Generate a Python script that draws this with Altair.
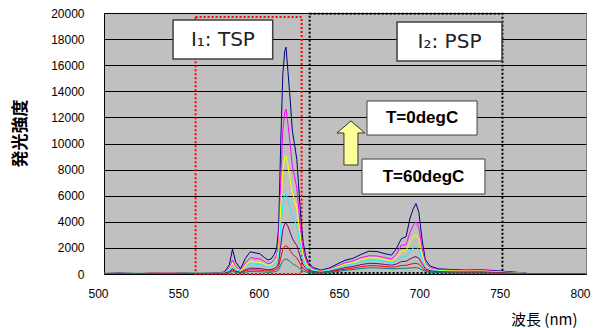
import altair as alt
import pandas as pd

# wavelength grid (nm)
wavelength = [500, 510, 520, 530, 540, 550, 560, 570, 575, 578, 580, 582, 585, 588, 591, 594, 597,
              600, 602, 604, 606, 607.5, 608.7, 610, 611.3, 612.5, 613.3, 614.5, 615.8, 617.2, 618.5,
              620, 621, 622, 623, 624, 625.5, 627, 630, 635, 640, 645, 650, 655, 660, 665, 670, 675,
              679, 682, 685, 688, 690.5, 692.5, 694.2, 696, 698, 700, 703, 708, 715, 725, 735, 745,
              755, 762, 765, 780, 800]

# emission intensity, T = 0 degC (top) ... T = 60 degC (bottom)
s_navy = [40, 60, 30, 50, 40, 60, 50, 80, 150, 700, 1900, 900, 400, 1200, 1700, 1620, 1550,
          1250, 1080, 1150, 1500, 2000, 3500, 10000, 15300, 17100, 17380, 15500, 13500, 11000, 10000,
          8800, 7000, 5200, 3600, 2400, 1400, 900, 500, 300, 450, 750, 1050, 1200, 1500, 1750, 1720, 1550,
          1450, 1950, 2700, 2850, 4300, 5000, 5400, 4700, 2600, 1100, 600, 400, 350, 300, 320, 250,
          150, 80, 0, 0, 0]
s_magenta = [30, 50, 40, 20, 60, 40, 30, 60, 100, 450, 1070, 550, 280, 850, 1250, 1200, 1150,
             950, 800, 850, 1100, 1450, 2500, 7200, 11000, 12400, 12640, 11500, 10000, 8300, 7500,
             6600, 5300, 3900, 2700, 1800, 1100, 700, 400, 250, 380, 600, 850, 1000, 1250, 1400, 1380, 1250,
             1150, 1500, 2200, 2250, 3200, 3750, 4010, 3500, 2000, 850, 480, 330, 300, 260, 280, 200,
             120, 60, 0, 0, 0]
s_yellow = [50, 30, 60, 40, 30, 50, 40, 50, 90, 380, 870, 450, 230, 680, 960, 930, 900,
            760, 650, 700, 900, 1150, 1900, 5200, 7900, 8900, 9040, 8300, 7300, 6200, 5700,
            5000, 4000, 3000, 2100, 1400, 850, 550, 330, 200, 330, 520, 750, 880, 1100, 1250, 1230, 1100,
            1000, 1250, 1750, 1800, 2450, 2850, 2990, 2650, 1550, 700, 400, 280, 250, 230, 240, 170,
            100, 50, 0, 0, 0]
s_cyan = [40, 40, 50, 30, 50, 30, 60, 40, 80, 300, 690, 360, 190, 560, 780, 760, 730,
          620, 530, 560, 720, 900, 1400, 3600, 5400, 6050, 6130, 5700, 5100, 4500, 4150,
          3700, 3000, 2300, 1600, 1100, 680, 450, 280, 180, 280, 450, 640, 760, 950, 1070, 1050, 950,
          870, 1000, 1300, 1350, 1750, 2000, 2090, 1850, 1150, 550, 330, 230, 200, 190, 200, 140,
          80, 40, 0, 0, 0]
s_purple = [30, 50, 40, 60, 40, 50, 30, 40, 60, 180, 400, 220, 130, 330, 450, 440, 420,
            370, 320, 340, 430, 540, 850, 2200, 3400, 3850, 3900, 3650, 3200, 2750, 2450,
            2200, 1800, 1400, 1000, 700, 450, 300, 200, 130, 200, 340, 480, 580, 720, 820, 800, 730,
            670, 760, 950, 980, 1150, 1280, 1330, 1200, 780, 400, 250, 180, 160, 150, 160, 110,
            60, 30, 0, 0, 0]
s_red = [50, 40, 30, 50, 60, 40, 50, 30, 50, 130, 300, 170, 100, 240, 320, 310, 300,
         260, 230, 240, 300, 370, 560, 1250, 1900, 2120, 2150, 2050, 1800, 1550, 1380,
         1250, 1000, 800, 580, 420, 280, 200, 140, 100, 150, 260, 370, 450, 560, 640, 630, 570,
         520, 560, 650, 660, 740, 800, 820, 750, 500, 280, 180, 130, 120, 110, 120, 80,
         50, 20, 0, 0, 0]
s_teal = [40, 60, 50, 40, 30, 60, 40, 50, 40, 90, 200, 110, 70, 140, 190, 180, 175,
          150, 130, 140, 170, 210, 310, 680, 1000, 1120, 1150, 1080, 950, 800, 700,
          620, 500, 400, 300, 230, 160, 120, 90, 70, 110, 190, 280, 340, 420, 480, 470, 430,
          400, 410, 440, 440, 460, 480, 490, 450, 320, 200, 130, 100, 90, 80, 90, 60,
          40, 20, 0, 0, 0]

series_names = ["s1", "s2", "s3", "s4", "s5", "s6", "s7"]
series_colors = ["#000080", "#FF00FF", "#FFFF00", "#00FFFF", "#800080", "#FF0000", "#008080"]
all_series = [s_navy, s_magenta, s_yellow, s_cyan, s_purple, s_red, s_teal]

x_ticks = [500, 550, 600, 650, 700, 750, 800]
y_ticks = [0, 2000, 4000, 6000, 8000, 10000, 12000, 14000, 16000, 18000, 20000]

# integration regions (nm, intensity)
region_x = [557, 628]
region_x2 = [623, 748]
region_y = [0, 80]
region_y2 = [19700, 19950]
region_color = ["#FF0000", "#000000"]

# label boxes
box_text = ["I\u2081: TSP", "I\u2082: PSP"]
box_x = [543, 682.4]
box_x2 = [605, 747.7]
box_y = [16475, 16320]
box_y2 = [19460, 19310]

temp_text = ["T=0degC", "T=60degC"]
temp_x = [663.7, 660.6]
temp_x2 = [732.2, 737.1]
temp_y = [10650, 6130]
temp_y2 = [13260, 8810]

arrow_x = [653.7]
arrow_y = [10040]

rows = []
for name, vals in zip(series_names, all_series):
    for w, v in zip(wavelength, vals):
        rows.append({"wl": w, "val": v, "series": name})
df = pd.DataFrame(rows)

regions = pd.DataFrame({"x": region_x, "x2": region_x2, "y": region_y, "y2": region_y2, "c": region_color})
boxes = pd.DataFrame({"x": box_x, "x2": box_x2, "y": box_y, "y2": box_y2, "t": box_text})
boxes["tx"] = (boxes["x"] + boxes["x2"]) / 2
boxes["ty"] = (boxes["y"] + boxes["y2"]) / 2
temps = pd.DataFrame({"x": temp_x, "x2": temp_x2, "y": temp_y, "y2": temp_y2, "t": temp_text})
temps["tx"] = (temps["x"] + temps["x2"]) / 2
temps["ty"] = (temps["y"] + temps["y2"]) / 2
arrow = pd.DataFrame({"x": arrow_x, "y": arrow_y})

xs = alt.Scale(domain=[500, 800], nice=False, zero=False)
ys = alt.Scale(domain=[0, 20000], nice=False)

x_axis = alt.Axis(values=x_ticks, tickCount=len(x_ticks), format="d", title="波長 (nm)", grid=False,
                  tickSize=0, labelPadding=14,
                  labelFont="Liberation Sans", labelFontSize=12, labelColor="#000000",
                  labelOverlap=False, labelOffset=-6,
                  domainColor="#000000", titleFont="Noto Sans CJK JP", titleFontSize=15,
                  titleFontWeight="normal", titleColor="#000000", titleX=473, titleY=45,
                  titleAlign="right", titleBaseline="middle", labelFlush=False)
y_axis = alt.Axis(values=y_ticks, tickCount=len(y_ticks), format="d", title="発光強度", grid=True,
                  gridColor="#000000", gridWidth=1,
                  gridOpacity=1, tickSize=0, labelPadding=20, labelFont="Liberation Sans",
                  labelFontSize=12, labelColor="#000000", domainColor="#000000", labelOverlap=False,
                  titleFont="Noto Sans CJK JP", titleFontSize=17, titleFontWeight="bold",
                  titleColor="#000000", titleX=-84, titleY=120, titleAlign="center",
                  titleBaseline="middle", titleAngle=270)

region_layer = alt.Chart(regions).mark_rect(fill=None, strokeWidth=2, strokeDash=[2, 2]).encode(
    x=alt.X("x:Q", scale=xs, axis=x_axis), x2="x2", y=alt.Y("y:Q", scale=ys, axis=y_axis), y2="y2",
    stroke=alt.Stroke("c:N", scale=None))

lines = alt.Chart(df).mark_line(strokeWidth=1, clip=True).encode(
    x=alt.X("wl:Q", scale=xs, axis=x_axis),
    y=alt.Y("val:Q", scale=ys, axis=y_axis),
    color=alt.Color("series:N", scale=alt.Scale(domain=series_names, range=series_colors), legend=None),
)

box_layer = alt.Chart(boxes).mark_rect(fill="white", stroke="#404040", strokeWidth=1.5).encode(
    x=alt.X("x:Q", scale=xs), x2="x2", y=alt.Y("y:Q", scale=ys), y2="y2")
box_text_layer = alt.Chart(boxes).mark_text(font="DejaVu Sans", fontSize=20, color="#222222").encode(
    x=alt.X("tx:Q", scale=xs), y=alt.Y("ty:Q", scale=ys), text="t:N")

temp_layer = alt.Chart(temps).mark_rect(fill="white", stroke="#404040", strokeWidth=1).encode(
    x=alt.X("x:Q", scale=xs), x2="x2", y=alt.Y("y:Q", scale=ys), y2="y2")
temp_text_layer = alt.Chart(temps).mark_text(font="Liberation Sans", fontSize=17, fontWeight="bold",
                                             color="#000000").encode(
    x=alt.X("tx:Q", scale=xs), y=alt.Y("ty:Q", scale=ys), text="t:N")

arrow_path = "M0,-1 L0.636,-0.455 L0.318,-0.455 L0.318,1 L-0.318,1 L-0.318,-0.455 L-0.636,-0.455 Z"
arrow_layer = alt.Chart(arrow).mark_point(shape=arrow_path, size=1936, filled=True, fill="#FFFF99",
                                          stroke="#333333", strokeWidth=1, opacity=1).encode(
    x=alt.X("x:Q", scale=xs), y=alt.Y("y:Q", scale=ys))

chart = alt.layer(region_layer, lines, box_layer, box_text_layer, temp_layer, temp_text_layer,
                  arrow_layer).properties(
    width=482, height=261,
    autosize=alt.AutoSizeParams(type="none"),
    padding={"left": 104, "top": 13, "right": 9, "bottom": 54},
    background="white",
).configure_view(fill="#C0C0C0", stroke="#808080", strokeWidth=1)

chart.save("out.html", embed_options={"renderer": "svg", "actions": False})
